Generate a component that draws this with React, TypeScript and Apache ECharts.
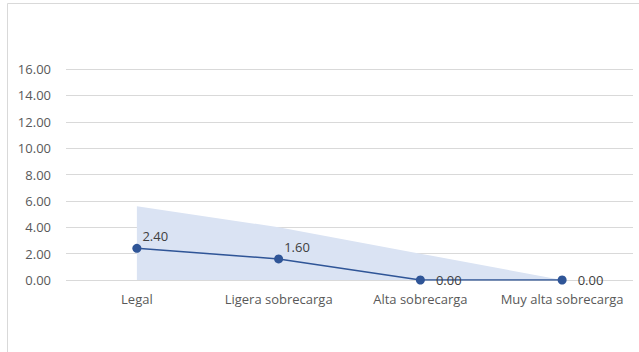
import React, { useEffect, useRef } from "react";
import * as echarts from "echarts";

const categories = ["Legal", "Ligera sobrecarga", "Alta sobrecarga", "Muy alta sobrecarga"];
const lineValues = [2.4, 1.6, 0, 0];
const bandValues = [5.6, 4.0, 2.0, 0];
const yTicks = { min: 0, max: 16, interval: 2 };

const FONT = "'Open Sans', sans-serif";

export default function App() {
  const ref = useRef<HTMLDivElement>(null);

  useEffect(() => {
    if (!ref.current) return;
    const chart = echarts.init(ref.current, undefined, { renderer: "svg" });

    const lineData = lineValues.map((v) => ({
      value: v,
      label:
        v > 0
          ? { position: "right", distance: 1, offset: [0, -12] }
          : { position: "right", distance: 11, offset: [0, 0] },
    }));

    chart.setOption({
      animation: false,
      backgroundColor: "#ffffff",
      grid: { left: 66, right: 6, top: 69, bottom: 72, containLabel: false },
      graphic: [
        {
          type: "rect",
          shape: { x: 7.5, y: 3.5, width: 640, height: 360 },
          style: { fill: "none", stroke: "#D9D9D9", lineWidth: 1 },
          silent: true,
          z: -1,
        },
      ],
      xAxis: {
        type: "category",
        data: categories,
        boundaryGap: true,
        axisLine: { show: false },
        axisTick: { show: false },
        axisLabel: {
          color: "#595959",
          fontFamily: FONT,
          fontSize: 13,
          margin: 12,
          interval: 0,
          hideOverlap: false,
        },
      },
      yAxis: {
        type: "value",
        min: yTicks.min,
        max: yTicks.max,
        interval: yTicks.interval,
        axisLine: { show: false },
        axisTick: { show: false },
        axisLabel: {
          color: "#595959",
          fontFamily: FONT,
          fontSize: 13,
          margin: 15,
          formatter: (v: number) => v.toFixed(2),
        },
        splitLine: { lineStyle: { color: "#D9D9D9", width: 1 } },
      },
      series: [
        {
          type: "line",
          data: bandValues,
          symbol: "none",
          lineStyle: { width: 0 },
          areaStyle: { color: "#DAE3F3", opacity: 1 },
          z: 1,
          silent: true,
        },
        {
          type: "line",
          data: lineData,
          symbol: "circle",
          symbolSize: 9,
          itemStyle: { color: "#2F5597" },
          lineStyle: { color: "#2F5597", width: 1.5 },
          z: 3,
          label: {
            show: true,
            color: "#404040",
            fontFamily: FONT,
            fontSize: 13,
            formatter: (p: any) => Number(p.value).toFixed(2),
          },
        },
      ],
    });

    return () => chart.dispose();
  }, []);

  return (
    <div
      ref={ref}
      style={{ position: "absolute", left: 0, top: 0, width: 639, height: 352 }}
    />
  );
}
